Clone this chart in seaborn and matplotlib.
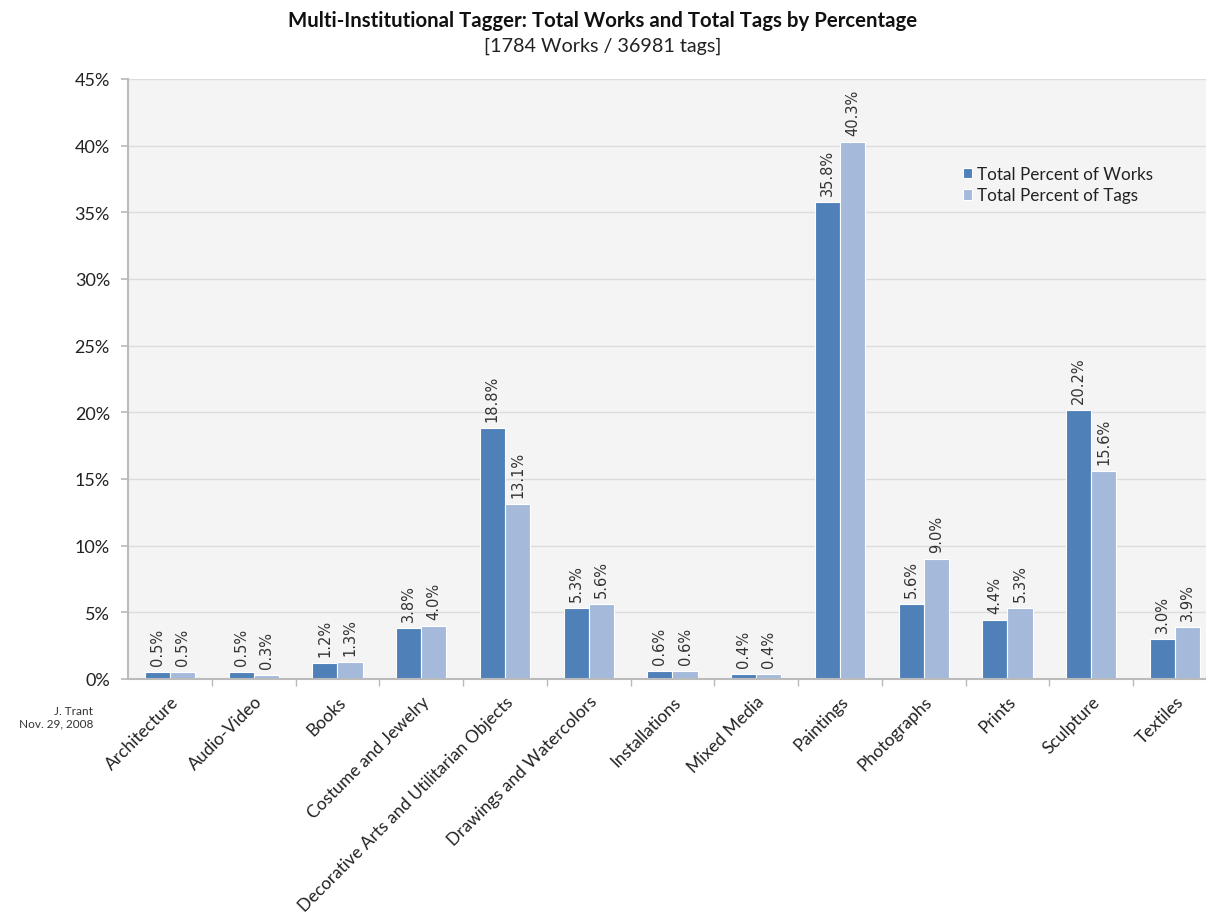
import matplotlib
matplotlib.use("Agg")
import matplotlib.pyplot as plt
import seaborn as sns
import pandas as pd
import numpy as np
from matplotlib.ticker import FuncFormatter, FixedLocator

categories = ["Architecture", "Audio-Video", "Books", "Costume and Jewelry",
              "Decorative Arts and Utilitarian Objects", "Drawings and Watercolors",
              "Installations", "Mixed Media", "Paintings", "Photographs", "Prints",
              "Sculpture", "Textiles"]
works_pct = [0.5, 0.5, 1.2, 3.8, 18.8, 5.3, 0.6, 0.4, 35.8, 5.6, 4.4, 20.2, 3.0]
tags_pct = [0.5, 0.3, 1.3, 4.0, 13.1, 5.6, 0.6, 0.4, 40.3, 9.0, 5.3, 15.6, 3.9]
series_names = ["Total Percent of Works", "Total Percent of Tags"]
y_ticks = [0, 5, 10, 15, 20, 25, 30, 35, 40, 45]

df = pd.DataFrame({
    "Category": categories * 2,
    "Percent": works_pct + tags_pct,
    "Series": [series_names[0]] * len(categories) + [series_names[1]] * len(categories),
})

sns.set_theme(style="white")
plt.rcParams["font.family"] = ["Lato", "DejaVu Sans"]

fig = plt.figure(figsize=(12.06, 9.2), dpi=100)
ax = fig.add_axes([128 / 1206, 1 - 680 / 920, 1 - 128 / 1206, 600 / 920])
ax.set_facecolor("#f4f4f4")

palette = {series_names[0]: "#4f81b8", series_names[1]: "#a5badb"}
sns.barplot(data=df, x="Category", y="Percent", hue="Series", order=categories,
            hue_order=series_names, palette=palette, width=0.6, saturation=1,
            ax=ax, linewidth=0.8, edgecolor="white")

for cont in ax.containers:
    labels = [f"{v:.1f}%" for v in cont.datavalues]
    ax.bar_label(cont, labels=labels, rotation=90, padding=5, fontsize=10.5,
                 color="#333333", family=["DejaVu Sans"])

ax.yaxis.set_major_locator(FixedLocator(y_ticks))
ax.yaxis.set_major_formatter(FuncFormatter(lambda v, p: f"{int(v)}%"))
ax.grid(axis="y", color="#dcdcdc", linewidth=1)
ax.set_axisbelow(True)
ax.tick_params(axis="y", labelsize=13, colors="#222222", length=5, color="#bbbbbb", pad=8, left=True)
ax.set_xticks(np.arange(len(categories)))
ax.set_xticklabels(categories, rotation=45, ha="right", rotation_mode="anchor",
                   fontsize=12.5, color="#222222")
ax.tick_params(axis="x", length=0, pad=10)
ax.set_xticks(np.arange(len(categories)) + 0.5, minor=True)
ax.tick_params(axis="x", which="minor", length=5, color="#bbbbbb", bottom=True)
ax.set_ylim(0, 45)
ax.set_xlim(-0.5, 12.37)
for s in ["top", "right"]:
    ax.spines[s].set_visible(False)
ax.spines["left"].set_color("#bbbbbb")
ax.spines["bottom"].set_color("#bbbbbb")
ax.spines["left"].set_linewidth(1.5)
ax.spines["bottom"].set_linewidth(1.5)
ax.set_xlabel("")
ax.set_ylabel("")

leg = ax.legend(loc="upper left", bbox_to_anchor=(0.76, 0.88), frameon=False,
                fontsize=12.3, handlelength=0.55, handleheight=0.55,
                handletextpad=0.3, labelspacing=0.3)
for t in leg.get_texts():
    t.set_color("#222222")

fig.text(0.5, 1 - 21 / 920, "Multi-Institutional Tagger: Total Works and Total Tags by Percentage",
         ha="center", va="center", fontsize=14.7, fontweight="bold", color="#111111")
fig.text(0.5, 1 - 46 / 920, "[1784 Works / 36981 tags]", ha="center", va="center",
         fontsize=14.2, color="#222222")
fig.text(93 / 1206, 1 - 718 / 920, "J. Trant\nNov. 29, 2008", ha="right", va="center",
         fontsize=8.5, color="#333333", linespacing=1.2)

fig.savefig("out.png", dpi=100, facecolor="white")
